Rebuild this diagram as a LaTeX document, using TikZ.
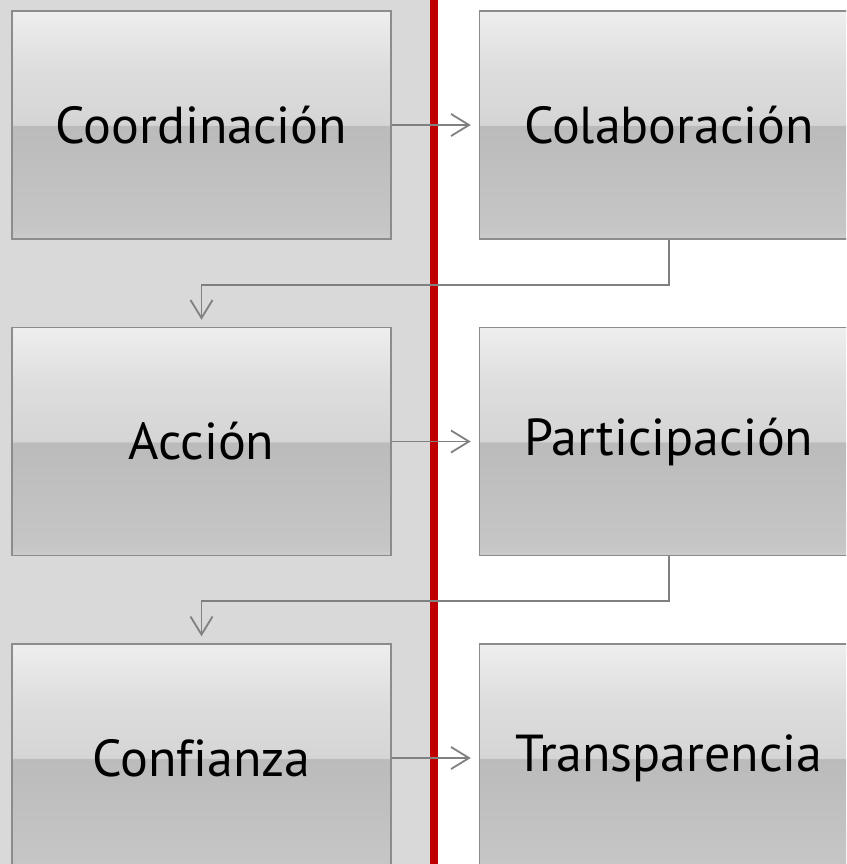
\documentclass[tikz,border=0pt]{standalone}
\usepackage{fontspec}
\setmainfont[Ligatures=NoCommon]{PT Sans}
\usetikzlibrary{positioning,arrows.meta}

\definecolor{panelgray}{HTML}{D9D9D9}
\definecolor{divred}{HTML}{C00000}
\definecolor{edgegray}{HTML}{8C8C8C}
\definecolor{arrowgray}{HTML}{808080}
\definecolor{glossbot}{HTML}{CCCCCC}
\definecolor{glosslow}{HTML}{C6C6C6}
\definecolor{glossdark}{HTML}{BBBBBB}
\definecolor{glossmid}{HTML}{D5D5D5}
\definecolor{glossupper}{HTML}{DDDDDD}
\definecolor{glosstop}{HTML}{EEEEEE}

\pgfdeclareverticalshading{boxgloss}{100bp}{color(0bp)=(glossbot); color(25bp)=(glossbot); color(27bp)=(glosslow); color(49.8bp)=(glossdark); color(50bp)=(glossmid); color(62bp)=(glossupper); color(75bp)=(glosstop); color(100bp)=(glosstop)}

\begin{document}
\begin{tikzpicture}[node distance=87pt, inner sep=0pt]
    \tikzstyle{stage}=[rectangle, shading=boxgloss, draw=edgegray, line width=1.5pt, minimum width=379pt, minimum height=228pt, font=\fontsize{52}{56}\selectfont]
    \tikzstyle{flow}=[-{Straight Barb[length=18pt,width=22pt]}, draw=arrowgray, line width=1.8pt]

    \clip (0,0) rectangle (846pt,-864pt);
    \fill[panelgray] (0,0) rectangle (432pt,-864pt);
    \draw[divred, line width=8pt] (434pt,0) -- (434pt,-864pt);

    \node[stage] (coord) at (201.5pt,-125pt) {Coordinación};
    \node[stage] (colab) [right=87pt of coord] {Colaboración};
    \node[stage] (accion) [below=87pt of coord] {Acción};
    \node[stage] (partic) [right=87pt of accion] {Participación};
    \node[stage] (confianza) [below=87pt of accion] {Confianza};
    \node[stage] (transp) [right=87pt of confianza] {Transparencia};

    \draw[flow, shorten >=8pt] (coord) -- (colab);
    \draw[flow, shorten >=8pt] (accion) -- (partic);
    \draw[flow, shorten >=8pt] (confianza) -- (transp);

    \draw[flow, shorten >=7pt] (colab.south) -- ++(0,-45pt) -| (accion.north);
    \draw[flow, shorten >=7pt] (partic.south) -- ++(0,-45pt) -| (confianza.north);
\end{tikzpicture}
\end{document}
